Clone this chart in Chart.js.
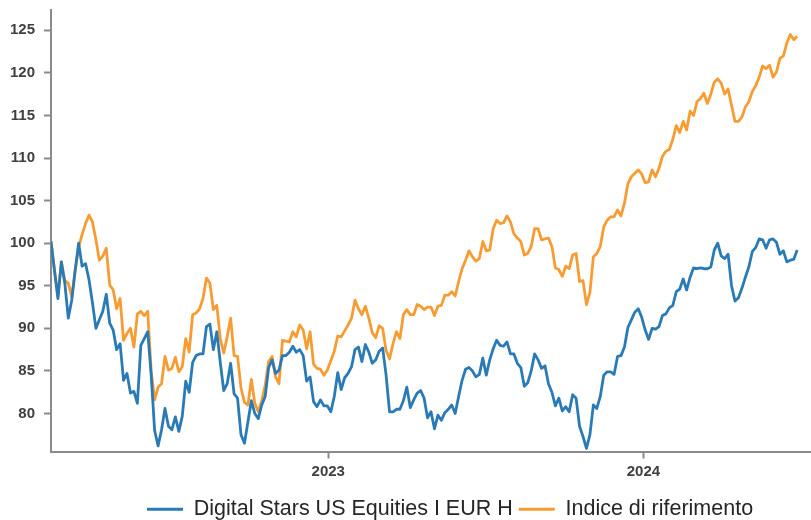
<!DOCTYPE html>
<html>
<head>
<meta charset="utf-8">
<script src="https://cdn.jsdelivr.net/npm/chart.js@4.4.1/dist/chart.umd.min.js"></script>
<style>
  html, body { margin: 0; padding: 0; background: #fff; }
  #wrap { width: 811px; height: 520px; }
</style>
</head>
<body>
<div id="wrap"><canvas id="chart"></canvas></div>
<script>
// series names (legend)
const seriesNames = ['Digital Stars US Equities I EUR H', 'Indice di riferimento'];

// sampling grid: one value every 4 calendar days from the first date
const startDate = '2022-02-14';
const endDate = '2024-07-13';
const stepDays = 4;

const yearTicks = [2023, 2024];
const yTicks = [80, 85, 90, 95, 100, 105, 110, 115, 120, 125];

// fund, rebased to 100
const fund = [
  100.2, 96.8, 93.5, 97.8, 95.3, 91.2, 93.3, 96.8, 100, 97.3,
  97.6, 95.7, 93, 90, 91, 92, 94, 90.6, 89.8, 87.5,
  88.2, 83.9, 84.7, 82.4, 82.6, 81.2, 88, 88.8, 89.6, 84.5,
  78, 76.2, 78.1, 80.6, 78.5, 78.1, 79.6, 77.9, 79.7, 83.8,
  82.5, 86, 86.8, 87, 87, 90.2, 90.5, 87.5, 89.6, 86,
  82.7, 83.5, 85.9, 82.3, 81.8, 77.5, 76.5, 79, 81.5, 80,
  79.4, 81, 82, 85.4, 86.3, 84.7, 85.1, 86.8, 86.8, 87.2,
  87.9, 87.2, 87.5, 86.8, 83.8, 84.3, 81.4, 80.8, 81.6, 80.9,
  80.9, 80.2, 82, 84.8, 82.8, 84.2, 84.7, 85.5, 87.5, 87.8,
  86.1, 88.1, 87.2, 85.9, 86.3, 87.3, 87.7, 84.5, 80.2, 80.2,
  80.5, 80.5, 81.5, 83.1, 80.7, 81.6, 82.4, 82.7, 81.8, 79.5,
  80.2, 78.2, 79.8, 79.2, 80.1, 80.5, 81, 80, 82, 83.9,
  85.2, 85.4, 85, 84.3, 84.6, 86.5, 84.5, 86.3, 87.6, 88.6,
  88, 87.9, 88.4, 87, 87, 85.9, 85.4, 83.2, 83.6, 85,
  87, 86.3, 85.3, 85.6, 83.5, 82.5, 80.9, 81.8, 80.3, 80.8,
  80.2, 82.2, 81.8, 78.5, 77.3, 75.9, 77.5, 81, 80.6, 82,
  84.5, 84.9, 84.9, 84.6, 86.7, 86.8, 87.8, 90.1, 91, 91.9,
  92.3, 91.3, 89.8, 88.7, 90, 89.9, 90.2, 91.5, 91.7, 92.4,
  92.7, 94.3, 94.6, 95.8, 94.5, 96, 97.1, 97, 97.1, 97,
  97, 97.2, 99.2, 100, 98.5, 98.2, 98.7, 95, 93.2, 93.6,
  94.7, 96, 97.2, 99, 99.5, 100.5, 100.4, 99.4, 100.4, 100.5,
  100.1, 98.7, 99.1, 97.8, 98, 98.1, 99.2
];

// benchmark index, rebased to 100
const benchmark = [
  100.2, 96.9, 93.8, 97.8, 95.6, 95.3, 93.7, 96.8, 99.5, 101,
  102.3, 103.3, 102.5, 100.4, 98, 98.5, 99.4, 95.1, 94.5, 92.3,
  93.5, 88.6, 89.4, 90, 87.8, 91.7, 92, 91.5, 92, 85,
  81.6, 83.1, 83.5, 86.7, 85.1, 85.3, 86.6, 84.9, 85.5, 88.8,
  87.2, 91.6, 91.8, 92.3, 93.5, 95.9, 95.3, 92.2, 92.7, 88.8,
  87.1, 89, 91.2, 86.8, 86.7, 83, 81.3, 81, 84, 81.2,
  80.2, 81.5, 83.3, 86.1, 86.7, 84.3, 83.5, 88.6, 88.5, 88.4,
  89.6, 89, 90.4, 89.8, 87.6, 89.6, 85.8, 85.3, 85.2, 84.5,
  85.1, 86.2, 87.3, 89.1, 89, 89.7, 90.4, 91.2, 93.3, 92.3,
  91.6, 92.6, 91.2, 89.5, 88.9, 90.3, 90, 87.4, 86.4, 88.2,
  89.6, 88.8, 91.6, 92.2, 91.6, 91.6, 92.8, 92.6, 92.2, 92.5,
  92.5, 91.5, 92.6, 92.7, 93.9, 93.9, 94.3, 93.8, 95.5, 97,
  98, 99.1, 98.4, 97.9, 98.2, 100.2, 99.1, 99.2, 101.7, 102.7,
  102.3, 102.4, 103.2, 102.5, 101.1, 100.6, 100.2, 98.6, 98.8, 99.6,
  101.7, 101.7, 100.4, 100.5, 100.6, 99.6, 97.1, 96.9, 96.1, 97.3,
  97, 98.6, 98.8, 95.5, 95.6, 92.8, 94.2, 98.4, 98.8, 99.6,
  101.9, 102.7, 103.1, 103.1, 103.9, 103.2, 104.7, 107, 107.8, 108.2,
  108.6, 108.1, 107.1, 107.2, 108.6, 107.8, 108.8, 110.2, 110.8, 111,
  112.2, 113.8, 113, 114.3, 113.3, 115.5, 115, 116.6, 117, 117.6,
  116.4, 117.5, 118.9, 119.3, 118.8, 117.5, 118.1, 116.2, 114.3, 114.3,
  114.8, 116, 116.6, 117.8, 118.5, 119.5, 120.8, 120.5, 120.9, 119.5,
  120.1, 121.7, 122, 123.5, 124.5, 123.9, 124.3
];

const BLUE = '#2a7ab6';
const ORANGE = '#f79c33';
const AXIS = '#8a8a8a';
const TXT = '#404040';
const FONT = "'Liberation Sans', Arial, sans-serif";

const DAY = 24 * 3600 * 1000;
const t0 = Date.parse(startDate + 'T00:00:00Z');
const t1 = Date.parse(endDate + 'T00:00:00Z');
const toPoints = vals => vals.map((v, i) => ({ x: t0 + i * stepDays * DAY, y: v }));

// move the legend to where the original has it
const legendOffset = {
  id: 'legendOffset',
  afterUpdate(chart) {
    const lg = chart.legend;
    const dx = 141 - lg.left;
    lg.left += dx;
    lg.right += dx;
    lg.top += 10;
    lg.bottom += 10;
  }
};

const ctx = document.getElementById('chart').getContext('2d');
new Chart(ctx, {
  type: 'line',
  data: {
    datasets: [
      {
        label: seriesNames[0],
        data: toPoints(fund),
        borderColor: BLUE,
        backgroundColor: BLUE,
        borderWidth: 2.8,
        borderJoinStyle: 'round',
        pointRadius: 0,
        tension: 0
      },
      {
        label: seriesNames[1],
        data: toPoints(benchmark),
        borderColor: ORANGE,
        backgroundColor: ORANGE,
        borderWidth: 2.8,
        borderJoinStyle: 'round',
        pointRadius: 0,
        tension: 0
      }
    ]
  },
  options: {
    responsive: true,
    maintainAspectRatio: false,
    animation: false,
    layout: { padding: { top: 10, right: 0, bottom: 0, left: 0 } },
    scales: {
      x: {
        type: 'linear',
        min: t0,
        max: t1,
        afterBuildTicks: axis => {
          axis.ticks = yearTicks.map(y => ({ value: Date.UTC(y, 0, 1) }));
        },
        afterFit: axis => { axis.height = 31; },
        grid: { drawOnChartArea: false, drawTicks: true, tickLength: 7, tickColor: AXIS, tickWidth: 2 },
        border: { color: AXIS, width: 2 },
        ticks: {
          callback: v => new Date(v).getUTCFullYear(),
          color: TXT,
          font: { family: FONT, size: 15, weight: 'bold' },
          padding: 4,
          maxRotation: 0,
          autoSkip: false
        }
      },
      y: {
        min: 75.54,
        max: 127.38,
        afterBuildTicks: axis => {
          axis.ticks = yTicks.map(v => ({ value: v }));
        },
        afterFit: axis => {
          axis.width = 51;
          axis.paddingTop = 0;
          axis.paddingBottom = 0;
        },
        grid: { drawOnChartArea: false, drawTicks: true, tickLength: 7, tickColor: AXIS, tickWidth: 2 },
        border: { color: AXIS, width: 2 },
        ticks: {
          color: TXT,
          font: { family: FONT, size: 15, weight: 'bold' },
          padding: 9
        }
      }
    },
    plugins: {
      legend: {
        position: 'bottom',
        align: 'start',
        labels: {
          usePointStyle: true,
          pointStyle: 'line',
          pointStyleWidth: 36,
          padding: 6,
          color: '#262626',
          font: { family: FONT, size: 21.5 }
        }
      },
      tooltip: { enabled: false }
    }
  },
  plugins: [legendOffset]
});
</script>
</body>
</html>
